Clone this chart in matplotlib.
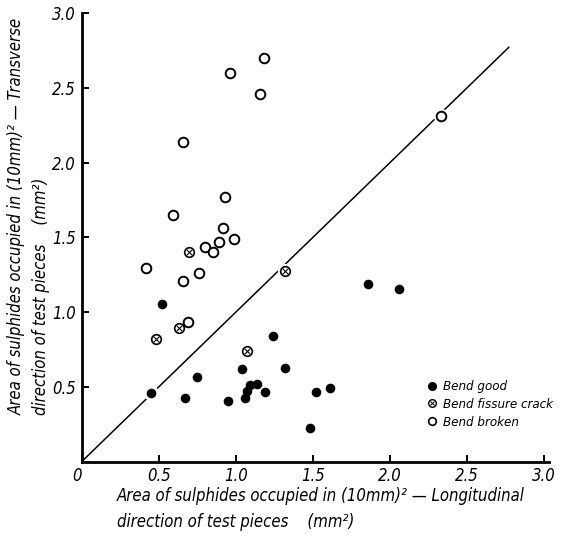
"""
Sulphide area, longitudinal vs transverse, with bend-test result.
Redrawn from a scanned figure; values read off the scan.
"""
import matplotlib
matplotlib.use("Agg")
import matplotlib.pyplot as plt
from matplotlib.lines import Line2D

# Bend good (solid dots)
good_x = [0.52, 0.45, 0.75, 0.67, 0.95, 1.04, 1.24, 1.32, 1.09, 1.14, 1.07,
          1.06, 1.19, 1.48, 1.52, 1.61, 1.86, 2.06]
good_y = [1.055, 0.463, 0.566, 0.428, 0.405, 0.622, 0.843, 0.626, 0.514, 0.519,
          0.47, 0.428, 0.466, 0.229, 0.466, 0.49, 1.189, 1.153]

# Bend fissure crack (circle with cross)
crack_x = [0.70, 1.32, 0.63, 0.48, 1.07]
crack_y = [1.405, 1.278, 0.892, 0.818, 0.74]

# Bend broken (open circles)
broken_x = [0.96, 1.18, 1.16, 0.66, 0.93, 0.59, 0.92, 0.99, 0.89, 0.80, 0.85,
            0.42, 0.76, 0.66, 0.69, 2.33]
broken_y = [2.60, 2.70, 2.46, 2.14, 1.77, 1.65, 1.56, 1.49, 1.466, 1.435, 1.405,
            1.296, 1.26, 1.207, 0.936, 2.31]

# the y = x reference line
diag = [0.0, 2.77]

xticks = [0, 0.5, 1.0, 1.5, 2.0, 2.5, 3.0]
xticklabels = ["0", "0.5", "1.0", "1.5", "2.0", "2.5", "3.0"]
yticks = [0, 0.5, 1.0, 1.5, 2.0, 2.5, 3.0]
yticklabels = ["", "0.5", "1.0", "1.5", "2.0", "2.5", "3.0"]

plt.rcParams["font.family"] = ["DejaVu Sans"]
plt.rcParams["font.style"] = "italic"
plt.rcParams["font.stretch"] = "condensed"

fig = plt.figure(figsize=(5.7, 5.37), dpi=100)
ax = fig.add_axes([0.143, 0.140, 0.820, 0.836])

ax.plot(diag, diag, color="black", lw=1.1, zorder=1)

# white halo under every marker, the scan shows the line broken round them
all_x = good_x + crack_x + broken_x
all_y = good_y + crack_y + broken_y
ax.scatter(all_x, all_y, s=120, color="white", zorder=2, linewidths=0)

ms = 48
ax.scatter(good_x, good_y, s=ms, color="black", zorder=3, linewidths=0)
ax.scatter(crack_x, crack_y, s=ms, facecolor="white", edgecolor="black",
           linewidths=1.2, zorder=3)
ax.scatter(crack_x, crack_y, s=16, marker="x", color="black",
           linewidths=0.8, zorder=4)
ax.scatter(broken_x, broken_y, s=ms, facecolor="white", edgecolor="black",
           linewidths=1.4, zorder=3)

ax.set_xlim(0, 3.03)
ax.set_ylim(0, 3.0)
ax.spines[["top", "right"]].set_visible(False)
ax.spines[["left", "bottom"]].set_linewidth(2.0)
ax.set_xticks(xticks)
ax.set_xticklabels(xticklabels)
ax.set_yticks(yticks)
ax.set_yticklabels(yticklabels)
ax.tick_params(direction="in", length=5, width=1.4, labelsize=12, pad=4)
ax.get_xticklabels()[0].set_ha("right")

# legend
h_good = Line2D([0], [0], marker="o", color="w", markerfacecolor="black",
                markeredgecolor="black", markersize=5.5)
h_crack = (Line2D([0], [0], marker="o", color="w", markerfacecolor="white",
                  markeredgecolor="black", markersize=5.5, markeredgewidth=1.0),
           Line2D([0], [0], marker="x", color="black", linestyle="none",
                  markersize=3, markeredgewidth=0.7))
h_broken = Line2D([0], [0], marker="o", color="w", markerfacecolor="white",
                  markeredgecolor="black", markersize=5.5, markeredgewidth=1.2)
ax.legend([h_good, h_crack, h_broken],
          ["Bend good", "Bend fissure crack", "Bend broken"],
          loc="upper left", bbox_to_anchor=(0.726, 0.196), frameon=False,
          handlelength=0.7, handletextpad=0.5, labelspacing=0.35,
          borderpad=0, fontsize=9.5)

fig.text(0.205, 0.052,
         "Area of sulphides occupied in (10mm)² — Longitudinal\n"
         "direction of test pieces    (mm²)",
         ha="left", va="center", multialignment="left", fontsize=12,
         linespacing=1.55)
fig.text(0.014, 0.227,
         "Area of sulphides occupied in (10mm)² — Transverse\n"
         "direction of test pieces    (mm²)",
         ha="left", va="bottom", rotation=90, multialignment="left",
         fontsize=12, linespacing=1.45)

fig.savefig("out.png", dpi=100)
